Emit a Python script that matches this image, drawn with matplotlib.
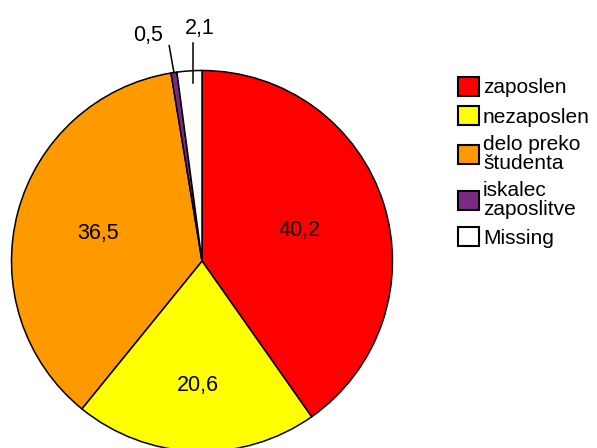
import numpy as np
import matplotlib
matplotlib.use("Agg")
import matplotlib.pyplot as plt

# podatki (odstotki)
labels = ["zaposlen", "nezaposlen", "delo preko\nštudenta", "iskalec\nzaposlitve", "Missing"]
values = [40.2, 20.6, 36.5, 0.5, 2.1]
value_labels = ["40,2", "20,6", "36,5", "0,5", "2,1"]
colors = ["#ff0000", "#ffff00", "#ff9900", "#7b2a84", "#ffffff"]

plt.rcParams["font.family"] = ["Liberation Sans", "DejaVu Sans"]

fig = plt.figure(figsize=(5.97, 4.48), dpi=100)
# krog: sredisce (202, 261) px, polmer 190.5 px
ax = fig.add_axes([(202 - 190.5) / 597, (187 - 190.5) / 448, 381 / 597, 381 / 448])

wedges, _ = ax.pie(values, colors=colors, startangle=90, counterclock=False,
                   wedgeprops=dict(edgecolor="black", linewidth=1.1))
ax.set_xlim(-1, 1)
ax.set_ylim(-1, 1)

# oznake v teziscu izseka, male izseke z vodilno crto
for w, txt, v in zip(wedges, value_labels, values):
    mid_deg = ((w.theta1 + w.theta2) / 2) % 360
    mid = np.deg2rad(mid_deg)
    th = np.deg2rad(abs(w.theta2 - w.theta1))
    if v >= 5:
        r = 4 * np.sin(th / 2) / (3 * th) + 0.035
        ax.text(r * np.cos(mid), r * np.sin(mid), txt, ha="center", va="center", fontsize=15.5)
    elif mid_deg > 96:
        x0, y0 = 1.0 * np.cos(mid), 1.0 * np.sin(mid)
        x1, y1 = x0 - 0.025, 1.13
        ax.plot([x0, x1], [y0, y1], color="black", lw=1.1, clip_on=False)
        ax.text(x1 - 0.03, y1 + 0.0, txt, ha="right", va="bottom", fontsize=15.5)
    else:
        x0 = 0.99 * np.cos(mid) + 0.02
        ax.plot([x0, x0], [0.935, 1.145], color="black", lw=1.1, clip_on=False)
        ax.text(x0 + 0.035, 1.165, txt, ha="center", va="bottom", fontsize=15.5)

leg = ax.legend(wedges, labels, loc="upper left", bbox_to_anchor=(458 / 597, 1 - 77 / 448),
                bbox_transform=fig.transFigure, frameon=False, fontsize=15,
                handlelength=1.0, handleheight=1.0, handletextpad=0.2,
                labelspacing=0.42, borderpad=0, borderaxespad=0)
for t in leg.get_texts():
    t.set_linespacing(0.95)
for h in leg.legend_handles:
    h.set_linewidth(1.5)

fig.savefig("out.png", dpi=100)
